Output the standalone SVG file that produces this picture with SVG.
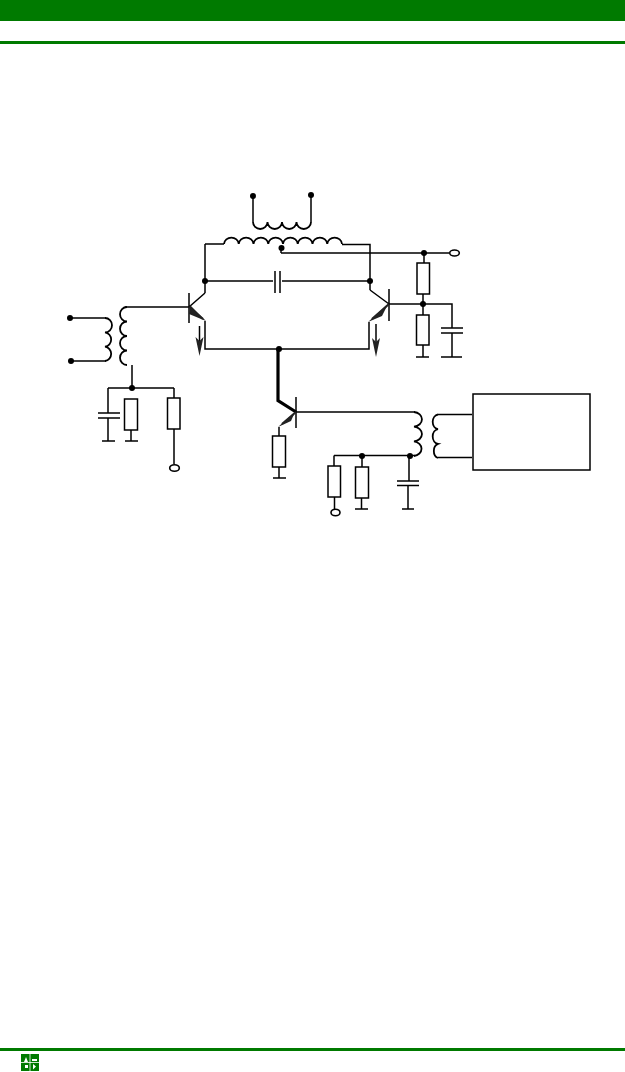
<svg xmlns="http://www.w3.org/2000/svg" width="625" height="1072" viewBox="0 0 625 1072">
<style>
.w{fill:none;stroke:#000;stroke-width:1.5}
.c{fill:none;stroke:#000;stroke-width:1.8}
.d{fill:#000}
.o{fill:#fff;stroke:#000;stroke-width:1.6}
.g{fill:#007a00}
.e{fill:none;stroke:#222;stroke-width:2.200}
.h{fill:#222}
</style>
<rect width="625" height="1072" fill="#fff"/>
<g id="header"><rect class="g" x="0" y="0" width="625" height="21"/><rect class="g" x="0" y="41" width="625" height="3"/></g>
<g id="footer"><rect class="g" x="0" y="1048" width="625" height="3"/>
<g id="logo"><rect class="g" x="21" y="1054" width="18" height="17"/>
<path d="M24 1062l2-5 2 5zM33 1056v3M36 1056v3M32 1059h5v2h-5zM25 1065h3v3h-3zM33 1064l3 2.500-3 3z" fill="#fff"/>
<path d="M21 1062.500h18M30 1054v17" stroke="#fff" stroke-width=".8"/></g></g>
<g id="connectors">
<path class="w" d="M253 196V222M311 195V222"/>
<path class="w" d="M205 244H224M342 244.500H370V290M205 244V293M205 281H273M282 281H370M369 322V349H205V321"/>
<path class="w" d="M281 253H449M424 253V263M423 294V315M389 304H452V328M452 333V357M441 357H462M423 345V357M416 357H429"/>
<path class="w" d="M70 318H106M71 361H106M125 307H189M132 365V388M108 388H174M108 388V413M108 418V441M102 441H115M131 430V441M125 441H138M174 388V398M174 429V464"/>
<path class="w" d="M296 412H415M438 414.500H472M438 457.500H472M334 455.500H415M334 455.500V466M334.500 497V509M362 455.500V467M361.500 498V509M355 509H368M409 456V481M408 486V509M402 509H414M279 427V436M279 467V478M273 478H286"/>
</g>
<g id="inductors">
<path class="c" d="M253 222a7.250 7 0 0 0 14.500 0a7.250 7 0 0 0 14.500 0a7.250 7 0 0 0 14.500 0a7.250 7 0 0 0 14.500 0"/>
<path class="c" d="M224 244a7.400 7 0 0 1 14.750 0a7.400 7 0 0 1 14.750 0a7.400 7 0 0 1 14.750 0a7.400 7 0 0 1 14.750 0a7.400 7 0 0 1 14.750 0a7.400 7 0 0 1 14.750 0a7.400 7 0 0 1 14.750 0a7.400 7 0 0 1 14.750 0"/>
<path class="c" d="M105 318a7 7.200 0 0 1 0 14.400a7 7.200 0 0 1 0 14.300a7 7.200 0 0 1 0 14.300"/>
<path class="c" d="M127 307a7 7.250 0 0 0 0 14.500a7 7.250 0 0 0 0 14.500a7 7.250 0 0 0 0 14.500a7 7.250 0 0 0 0 14.500"/>
<path class="c" d="M414 412a9 7.400 0 0 1 0 14.700a9 7.400 0 0 1 0 14.700a9 7.400 0 0 1 0 14.600"/>
<path class="c" d="M438 414.500a6 7.400 0 0 0 0 14.700a6 7.400 0 0 0 0 14.700a6 7.400 0 0 0 0 14.100"/>
</g>
<g id="capacitors">
<path class="w" d="M275 271V293M280 271V293M441 328H463M441 333H463M98 413H120M98 418H120M397 481H419M397 485.500H419"/>
</g>
<g id="resistors">
<rect class="w" x="417" y="263" width="12.500" height="31"/>
<rect class="w" x="416.500" y="315" width="12.500" height="30"/>
<rect class="w" x="124.500" y="399" width="13" height="31"/>
<rect class="w" x="167.500" y="398" width="12.500" height="31"/>
<rect class="w" x="272.500" y="436" width="13" height="31"/>
<rect class="w" x="328" y="466" width="12.500" height="31"/>
<rect class="w" x="355.500" y="467" width="13" height="31"/>
</g>
<g id="transistor-left">
<path class="w" d="M189 293V323M205 293L189 307"/>
<path class="e" d="M189 307L203 319"/><path class="h" d="M190 305L206 321L189 314z"/>
<path class="w" d="M199.500 326V342" stroke-width="2"/><path class="h" d="M195.500 337L199.500 356L203.500 337L199.500 341z"/>
</g>
<g id="transistor-right">
<path class="w" d="M389 289V321M370 290L389 304"/>
<path class="e" d="M389 304L372 319"/><path class="h" d="M388 304L368 322L382 316z"/>
<path class="w" d="M376 324V342"/><path class="h" d="M372 338L376 357L380 338L376 342z"/>
</g>
<g id="transistor-bottom">
<path fill="none" stroke="#000" stroke-width="3.200" d="M278 349V400.500L296 412"/>
<path class="w" d="M296 397V428"/>
<path class="e" d="M296 412L282 424"/><path class="h" d="M295 412L278 427L291 421z"/>
</g>
<g id="box"><rect class="w" x="473" y="394" width="117" height="76"/></g>
<g id="junctions">
<circle class="d" cx="253" cy="196" r="3"/><circle class="d" cx="311" cy="195" r="3"/>
<circle class="d" cx="281.500" cy="248" r="3"/><circle class="d" cx="205" cy="281" r="3"/><circle class="d" cx="370" cy="281" r="3"/>
<circle class="d" cx="424" cy="253" r="3"/><circle class="d" cx="423" cy="304" r="3"/><circle class="d" cx="279" cy="349" r="3"/>
<circle class="d" cx="70" cy="318" r="3"/><circle class="d" cx="71" cy="361" r="3"/><circle class="d" cx="132" cy="388" r="3"/>
<circle class="d" cx="362" cy="456" r="3"/><circle class="d" cx="410" cy="456" r="3"/>
<path class="w" d="M281 248V253"/>
<ellipse class="o" cx="454.500" cy="253" rx="4.800" ry="3"/><ellipse class="o" cx="174.500" cy="468" rx="4.800" ry="3.300"/><ellipse class="o" cx="335.500" cy="512.500" rx="4.500" ry="3.300"/>
</g>
</svg>
